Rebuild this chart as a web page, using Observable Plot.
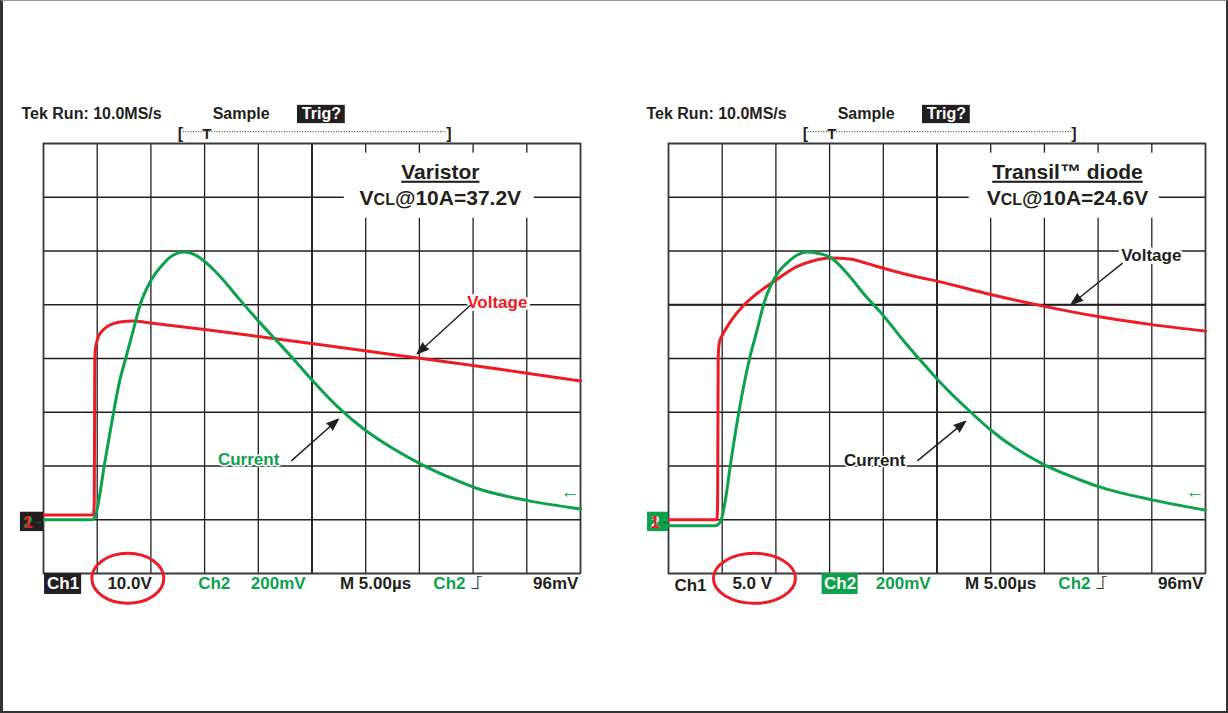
<!DOCTYPE html>
<html>
<head>
<meta charset="utf-8">
<script src="https://cdn.jsdelivr.net/npm/d3@7"></script>
<script src="https://cdn.jsdelivr.net/npm/@observablehq/plot@0.6"></script>
<style>
  body { margin: 0; background: #fff; }
  #wrap { position: relative; width: 1228px; height: 713px; overflow: hidden; background: #fff; }
  #border { position: absolute; left: 0; top: 0; width: 1228px; height: 713px; box-sizing: border-box;
    border-top: 1px solid #999; border-left: 3px solid #333; border-right: 2px solid #333; border-bottom: 2px solid #333;
    pointer-events: none; z-index: 5; }
</style>
</head>
<body>
<div id="wrap"><div id="border"></div></div>
<script>
// ---------- data (time and amplitude in screen divisions; 5 µs/div) ----------
const gridX = [0, 1, 2, 3, 4, 5, 6, 7, 8, 9, 10];
const gridY = [0, 1, 2, 3, 4, 5, 6, 7, 8];

const varistorVoltageT = [0, 0.93, 0.945, 0.955, 0.965, 0.99, 1.02, 1.1, 1.18, 1.3, 1.42, 1.67, 1.92, 3.0, 4.0, 5.13, 7.04, 8.5, 10];
const varistorVoltageV = [1.09, 1.09, 1.3, 3.9, 4.15, 4.3, 4.40, 4.52, 4.59, 4.65, 4.68, 4.70, 4.67, 4.54, 4.41, 4.26, 4.0, 3.8, 3.58];
const varistorCurrentT = [0, 0.90, 0.96, 1.05, 1.13, 1.17, 1.30, 1.42, 1.53, 1.67, 1.80, 2.0, 2.23, 2.41, 2.62, 2.84, 3.15, 3.40, 3.65, 4.0, 4.39, 4.7, 5.0, 5.5, 6.0, 6.5, 7.0, 7.67, 8.05, 9.0, 10];
const varistorCurrentV = [1.0, 1.0, 1.05, 1.48, 2.0, 2.23, 2.97, 3.59, 4.0, 4.52, 5.0, 5.45, 5.76, 5.92, 5.98, 5.92, 5.67, 5.40, 5.10, 4.70, 4.28, 3.94, 3.60, 3.08, 2.66, 2.33, 2.05, 1.74, 1.59, 1.36, 1.2];

const transilVoltageT = [0, 0.90, 0.915, 0.925, 0.94, 0.97, 1.0, 1.15, 1.40, 1.65, 2.0, 2.39, 2.70, 3.0, 3.38, 3.69, 4.0, 4.62, 5.0, 6.0, 7.0, 8.0, 9.0, 10];
const transilVoltageV = [1.0, 1.0, 1.3, 4.0, 4.25, 4.37, 4.43, 4.68, 4.99, 5.21, 5.46, 5.71, 5.82, 5.87, 5.85, 5.77, 5.68, 5.52, 5.44, 5.19, 4.97, 4.78, 4.63, 4.51];
const transilCurrentT = [0, 0.87, 0.97, 1.06, 1.15, 1.31, 1.51, 1.65, 1.77, 2.05, 2.20, 2.39, 2.59, 2.82, 3.0, 3.38, 3.63, 4.0, 4.37, 4.74, 5.0, 5.63, 6.0, 7.0, 7.67, 8.0, 9.0, 10];
const transilCurrentV = [0.89, 0.89, 0.97, 1.37, 2.0, 3.0, 4.0, 4.53, 5.0, 5.61, 5.77, 5.92, 5.98, 5.95, 5.89, 5.52, 5.21, 4.80, 4.34, 3.91, 3.62, 3.0, 2.67, 2.02, 1.74, 1.62, 1.37, 1.18];

const panelTitles = ["Varistor", "Transil™ diode"];
const clampLabels = ["V_CL@10A=37.2V", "V_CL@10A=24.6V"];
const ch1Scales = ["10.0V", "5.0 V"];
const headerTexts = ["Tek Run: 10.0MS/s", "Sample", "Trig?"];
const footerTexts = ["Ch1", "Ch2", "200mV", "M 5.00µs", "Ch2", "96mV"];

// ---------- styling ----------
const RED = "#ec1c24", GREEN = "#0ca14b", INK = "#231f20";
const FONT = "'Liberation Sans', Arial, Helvetica, sans-serif";

function panel(cfg) {
  const pts = (T, V) => T.map((t, i) => ({t, v: V[i]}));
  const txt = (text, x, y, opts = {}) =>
    Plot.text([{text, x, y}], {x: "x", y: "y", text: "text", fontFamily: FONT, fontWeight: "bold", fontSize: 17, fill: INK, ...opts});
  const box = (x1, x2, y1, y2, fill) => Plot.rect([{x1, x2, y1, y2}], {x1: "x1", x2: "x2", y1: "y1", y2: "y2", fill});
  const arrow = (x1, y1, x2, y2) =>
    Plot.arrow([{x1, y1, x2, y2}], {x1: "x1", y1: "y1", x2: "x2", y2: "y2", stroke: INK, fill: INK, strokeWidth: 1.4, headLength: 13, headAngle: 40});
  const halo = (text, x, y, w, opts = {}) =>
    txt(text, x, y, {...opts, fill: "white", stroke: "white", strokeWidth: w});

  const marks = [
    Plot.ruleX(gridX, {stroke: INK, strokeWidth: 1.3}),
    Plot.ruleY(gridY, {stroke: INK, strokeWidth: 1.3}),
    Plot.ruleX([5], {stroke: INK, strokeWidth: 1.8}),
    Plot.ruleY(cfg.thickY, {stroke: INK, strokeWidth: 1.8}),
    Plot.frame({stroke: "#3a3a3a", strokeWidth: 1.6}),
    // title box
    box(5.6, 9.14, 6.61, 7.82, "white"),
    txt(cfg.title, cfg.titleX, 7.47, {fontSize: 21}),
    txt(cfg.clamp, cfg.titleX, 6.98, {fontSize: 21}),
    // traces
    Plot.line(pts(cfg.vT, cfg.vV), {x: "t", y: "v", stroke: RED, strokeWidth: 3, curve: "monotone-x"}),
    Plot.line(pts(cfg.iT, cfg.iV), {x: "t", y: "v", stroke: GREEN, strokeWidth: 3, curve: "monotone-x"}),
    // annotations
    halo("Voltage", cfg.voltLabel[0], cfg.voltLabel[1], 6),
    txt("Voltage", cfg.voltLabel[0], cfg.voltLabel[1], {fill: cfg.voltColor}),
    arrow(...cfg.voltArrow),
    halo("Current", cfg.curLabel[0], cfg.curLabel[1], 3),
    txt("Current", cfg.curLabel[0], cfg.curLabel[1], {fill: cfg.curColor}),
    arrow(...cfg.curArrow),
    // ground markers and trigger level
    box(cfg.markerX, 0, 0.78, 1.14, cfg.markerFill),
    txt("2", cfg.markerX + 0.14, 0.95, {fontSize: 17, fill: cfg.marker2}),
    txt("1", cfg.markerX + 0.14, 0.95, {fontSize: 17, fill: RED}),
    txt("→", -0.1, 0.98, {fontSize: 10, fill: cfg.markerArrow}),
    txt("←", 9.98, 1.51, {fontSize: 19, fill: GREEN, textAnchor: "end", fontWeight: "normal"}),
    // header
    txt(headerTexts[0], -0.41, 8.55, {textAnchor: "start", fontSize: 16}),
    txt(headerTexts[1], 3.15, 8.55, {textAnchor: "start", fontSize: 16}),
    box(4.73, 5.62, 8.37, 8.71, INK),
    txt(headerTexts[2], 5.175, 8.55, {fontSize: 16, fill: "white"}),
    Plot.ruleY([8.22], {x1: 2.6, x2: 7.5, stroke: INK, strokeWidth: 1, strokeDasharray: "1,1.6"}),
    txt("[", 2.5, 8.17, {textAnchor: "start", fontSize: 16}),
    txt("]", 7.6, 8.17, {textAnchor: "end", fontSize: 16}),
    txt("T", 3.04, 8.17, {fontSize: 15}),
    // footer
    Plot.dot([{x: cfg.ellipseX, y: -0.09}], {x: "x", y: "y", r: 25, stroke: RED, strokeWidth: 3, fill: "none"}),
    txt(cfg.ch1Scale, 1.19, -0.18, {textAnchor: "start"}),
    txt(footerTexts[2], 3.86, -0.18, {textAnchor: "start", fill: GREEN}),
    txt(footerTexts[3], 5.52, -0.18, {textAnchor: "start"}),
    txt(footerTexts[4], 7.26, -0.18, {textAnchor: "start", fill: GREEN}),
    txt("_|‾", 7.97, -0.16, {textAnchor: "start", fontSize: 12, fontWeight: "normal"}),
    txt(footerTexts[5], 9.96, -0.18, {textAnchor: "end"})
  ];
  if (cfg.ch1Boxed) {
    marks.push(box(0.02, 0.71, -0.39, 0, INK), txt(footerTexts[0], 0.365, -0.19, {fill: "white"}));
    marks.push(txt(footerTexts[1], 2.88, -0.18, {textAnchor: "start", fill: GREEN}));
  } else {
    marks.push(txt(footerTexts[0], 0.11, -0.22, {textAnchor: "start"}));
    marks.push(box(2.86, 3.53, -0.39, 0, GREEN), txt(footerTexts[1], 3.195, -0.19, {fill: "white"}));
  }

  return Plot.plot({
    width: 600, height: 713,
    marginLeft: 43, marginRight: 20, marginTop: 143, marginBottom: 140,
    x: {domain: [0, 10], axis: null},
    y: {domain: [0, 8], axis: null},
    style: {background: "transparent", overflow: "visible"},
    marks
  });
}

const configs = [
  {left: 0, title: panelTitles[0], clamp: clampLabels[0], titleX: 7.39, thickY: [],
   vT: varistorVoltageT, vV: varistorVoltageV, iT: varistorCurrentT, iV: varistorCurrentV,
   voltLabel: [8.45, 5.05], voltColor: RED, voltArrow: [7.95, 4.99, 6.96, 4.09],
   curLabel: [3.82, 2.12], curColor: GREEN, curArrow: [4.62, 2.10, 5.49, 2.87],
   markerX: -0.43, markerFill: INK, marker2: GREEN, markerArrow: GREEN,
   ch1Scale: ch1Scales[0], ch1Boxed: true, ellipseX: 1.57, ellipseRx: 36},
  {left: 625, title: panelTitles[1], clamp: clampLabels[1], titleX: 7.43, thickY: [5],
   vT: transilVoltageT, vV: transilVoltageV, iT: transilCurrentT, iV: transilCurrentV,
   voltLabel: [8.99, 5.92], voltColor: INK, voltArrow: [8.45, 5.77, 7.50, 5.01],
   curLabel: [3.84, 2.10], curColor: INK, curArrow: [4.64, 2.10, 5.53, 2.83],
   markerX: -0.39, markerFill: GREEN, marker2: "white", markerArrow: INK,
   ch1Scale: ch1Scales[1], ch1Boxed: false, ellipseX: 1.6, ellipseRx: 41}
];

const wrap = document.getElementById("wrap");
for (const cfg of configs) {
  const svg = panel(cfg);
  svg.style.position = "absolute";
  svg.style.left = cfg.left + "px";
  svg.style.top = "0px";
  wrap.appendChild(svg);
  const s = d3.select(svg);
  // clamp-voltage label with small "CL"
  s.selectAll("text").each(function () {
    const t = this.textContent;
    if (t.startsWith("V_CL")) {
      const el = d3.select(this);
      el.text(null);
      el.append("tspan").text("V");
      el.append("tspan").attr("font-size", 16).text("CL");
      el.append("tspan").text(t.slice(4));
    } else if (t === cfg.title) {
      d3.select(this).style("text-decoration", "underline").style("text-decoration-thickness", "2px");
    } else if (t === "_|‾") {
      d3.select(this).style("letter-spacing", "-2px");
    }
  });
  // red ellipse around the Ch1 scale
  s.selectAll("circle").each(function () {
    const cx = +this.getAttribute("cx") || 0, cy = +this.getAttribute("cy") || 0;
    const r = +this.getAttribute("r");
    const sx = cfg.ellipseRx / r;
    this.setAttribute("transform", `translate(${cx},${cy}) scale(${sx},1) translate(${-cx},${-cy})`);
    this.setAttribute("vector-effect", "non-scaling-stroke");
  });
}
</script>
</body>
</html>
